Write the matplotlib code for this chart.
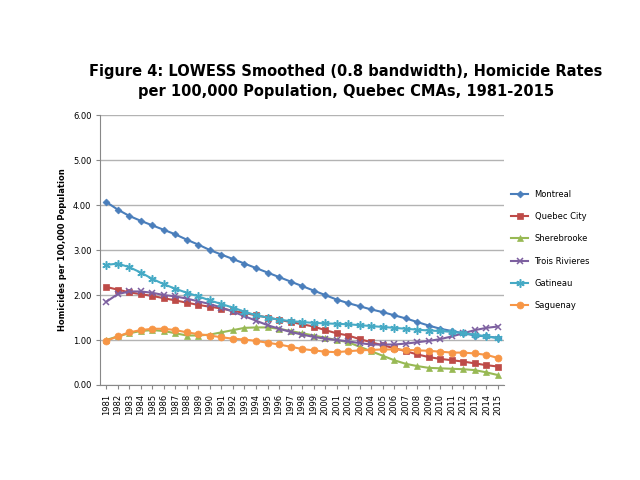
import numpy as np
import matplotlib.pyplot as plt

years = list(range(1981, 2016))
montreal = [4.07, 3.9, 3.76, 3.65, 3.55, 3.45, 3.35, 3.23, 3.12, 3.0, 2.9, 2.8, 2.7, 2.6, 2.5, 2.4,
            2.3, 2.2, 2.1, 2.0, 1.9, 1.82, 1.75, 1.68, 1.62, 1.55, 1.48, 1.4, 1.32, 1.25, 1.2, 1.15,
            1.1, 1.08, 1.05]
quebec = [2.18, 2.12, 2.06, 2.02, 1.98, 1.93, 1.88, 1.83, 1.78, 1.74, 1.7, 1.65, 1.6, 1.55, 1.5, 1.45,
          1.4, 1.35, 1.3, 1.22, 1.15, 1.1, 1.02, 0.95, 0.88, 0.82, 0.75, 0.68, 0.62, 0.58, 0.55, 0.52,
          0.48, 0.44, 0.41]
sherbrooke = [1.0, 1.08, 1.15, 1.2, 1.22, 1.2, 1.15, 1.1, 1.1, 1.12, 1.17, 1.22, 1.27, 1.28, 1.28, 1.25,
              1.2, 1.15, 1.1, 1.05, 1.0, 0.95, 0.85, 0.75, 0.65, 0.55, 0.47, 0.42, 0.38, 0.37, 0.36,
              0.35, 0.33, 0.28, 0.22]
trois = [1.85, 2.02, 2.08, 2.08, 2.05, 2.0, 1.97, 1.92, 1.86, 1.8, 1.72, 1.63, 1.53, 1.43, 1.33, 1.25,
         1.18, 1.12, 1.07, 1.03, 1.0, 0.97, 0.93, 0.9, 0.9, 0.9, 0.92, 0.95, 0.98, 1.02, 1.08, 1.15,
         1.22, 1.27, 1.3]
gatineau = [2.67, 2.7, 2.62, 2.5, 2.36, 2.24, 2.14, 2.05, 1.97, 1.88, 1.8, 1.72, 1.63, 1.55, 1.5, 1.45,
            1.42, 1.4, 1.38, 1.37, 1.36, 1.35, 1.33, 1.31, 1.29, 1.27, 1.25, 1.23, 1.21, 1.2, 1.18,
            1.15, 1.12, 1.08, 1.04]
saguenay = [0.98, 1.08, 1.17, 1.22, 1.25, 1.25, 1.22, 1.17, 1.13, 1.1, 1.06, 1.03, 1.01, 0.98, 0.94, 0.9,
            0.85, 0.8, 0.77, 0.74, 0.73, 0.75, 0.77, 0.78, 0.79, 0.79, 0.78, 0.77, 0.76, 0.74, 0.72,
            0.72, 0.7, 0.67, 0.6]

series = [
    ("Montreal", montreal, "#4a7ebb", "D", 3.5),
    ("Quebec City", quebec, "#be4b48", "s", 4.5),
    ("Sherebrooke", sherbrooke, "#98b954", "^", 4.5),
    ("Trois Rivieres", trois, "#7d60a0", "x", 5),
    ("Gatineau", gatineau, "#46aac5", (6, 2, 0), 6),
    ("Saguenay", saguenay, "#f79646", "o", 5),
]

fig = plt.figure(figsize=(6.4, 4.8), dpi=100)
ax = fig.add_axes([0.157, 0.198, 0.63, 0.562])
x = np.arange(len(years))
for name, vals, col, mk, ms in series:
    ax.plot(x, vals, color=col, marker=mk, markersize=ms, linewidth=1.5, label=name,
            markeredgewidth=1.1 if mk in ("x", (6, 2, 0)) else 0.5)

ax.set_xlim(-0.5, len(years) - 0.5)
ax.set_ylim(0, 6)
ax.set_yticks(np.arange(0, 6.01, 1))
ax.set_yticklabels([f"{v:.2f}" for v in np.arange(0, 6.01, 1)], fontsize=6)
ax.set_xticks(x)
ax.set_xticklabels(years, rotation=90, fontsize=6)
ax.yaxis.grid(True, color="#b3b3b3", linewidth=1)
ax.set_axisbelow(True)
for s in ("top", "right"):
    ax.spines[s].set_visible(False)
for s in ("left", "bottom"):
    ax.spines[s].set_color("#888888")
ax.tick_params(axis="both", length=3, color="#888888")
ax.set_ylabel("Homicides per 100,000 Population", fontsize=6, fontweight="bold")
fig.text(0.54, 0.83, "Figure 4: LOWESS Smoothed (0.8 bandwidth), Homicide Rates\nper 100,000 Population, Quebec CMAs, 1981-2015",
         fontsize=10.5, fontweight="bold", ha="center", va="center", linespacing=1.4)
ax.legend(loc="center left", bbox_to_anchor=(1.0, 0.5), frameon=False, fontsize=6, labelspacing=1.6)
fig.savefig("out.png", dpi=100)
